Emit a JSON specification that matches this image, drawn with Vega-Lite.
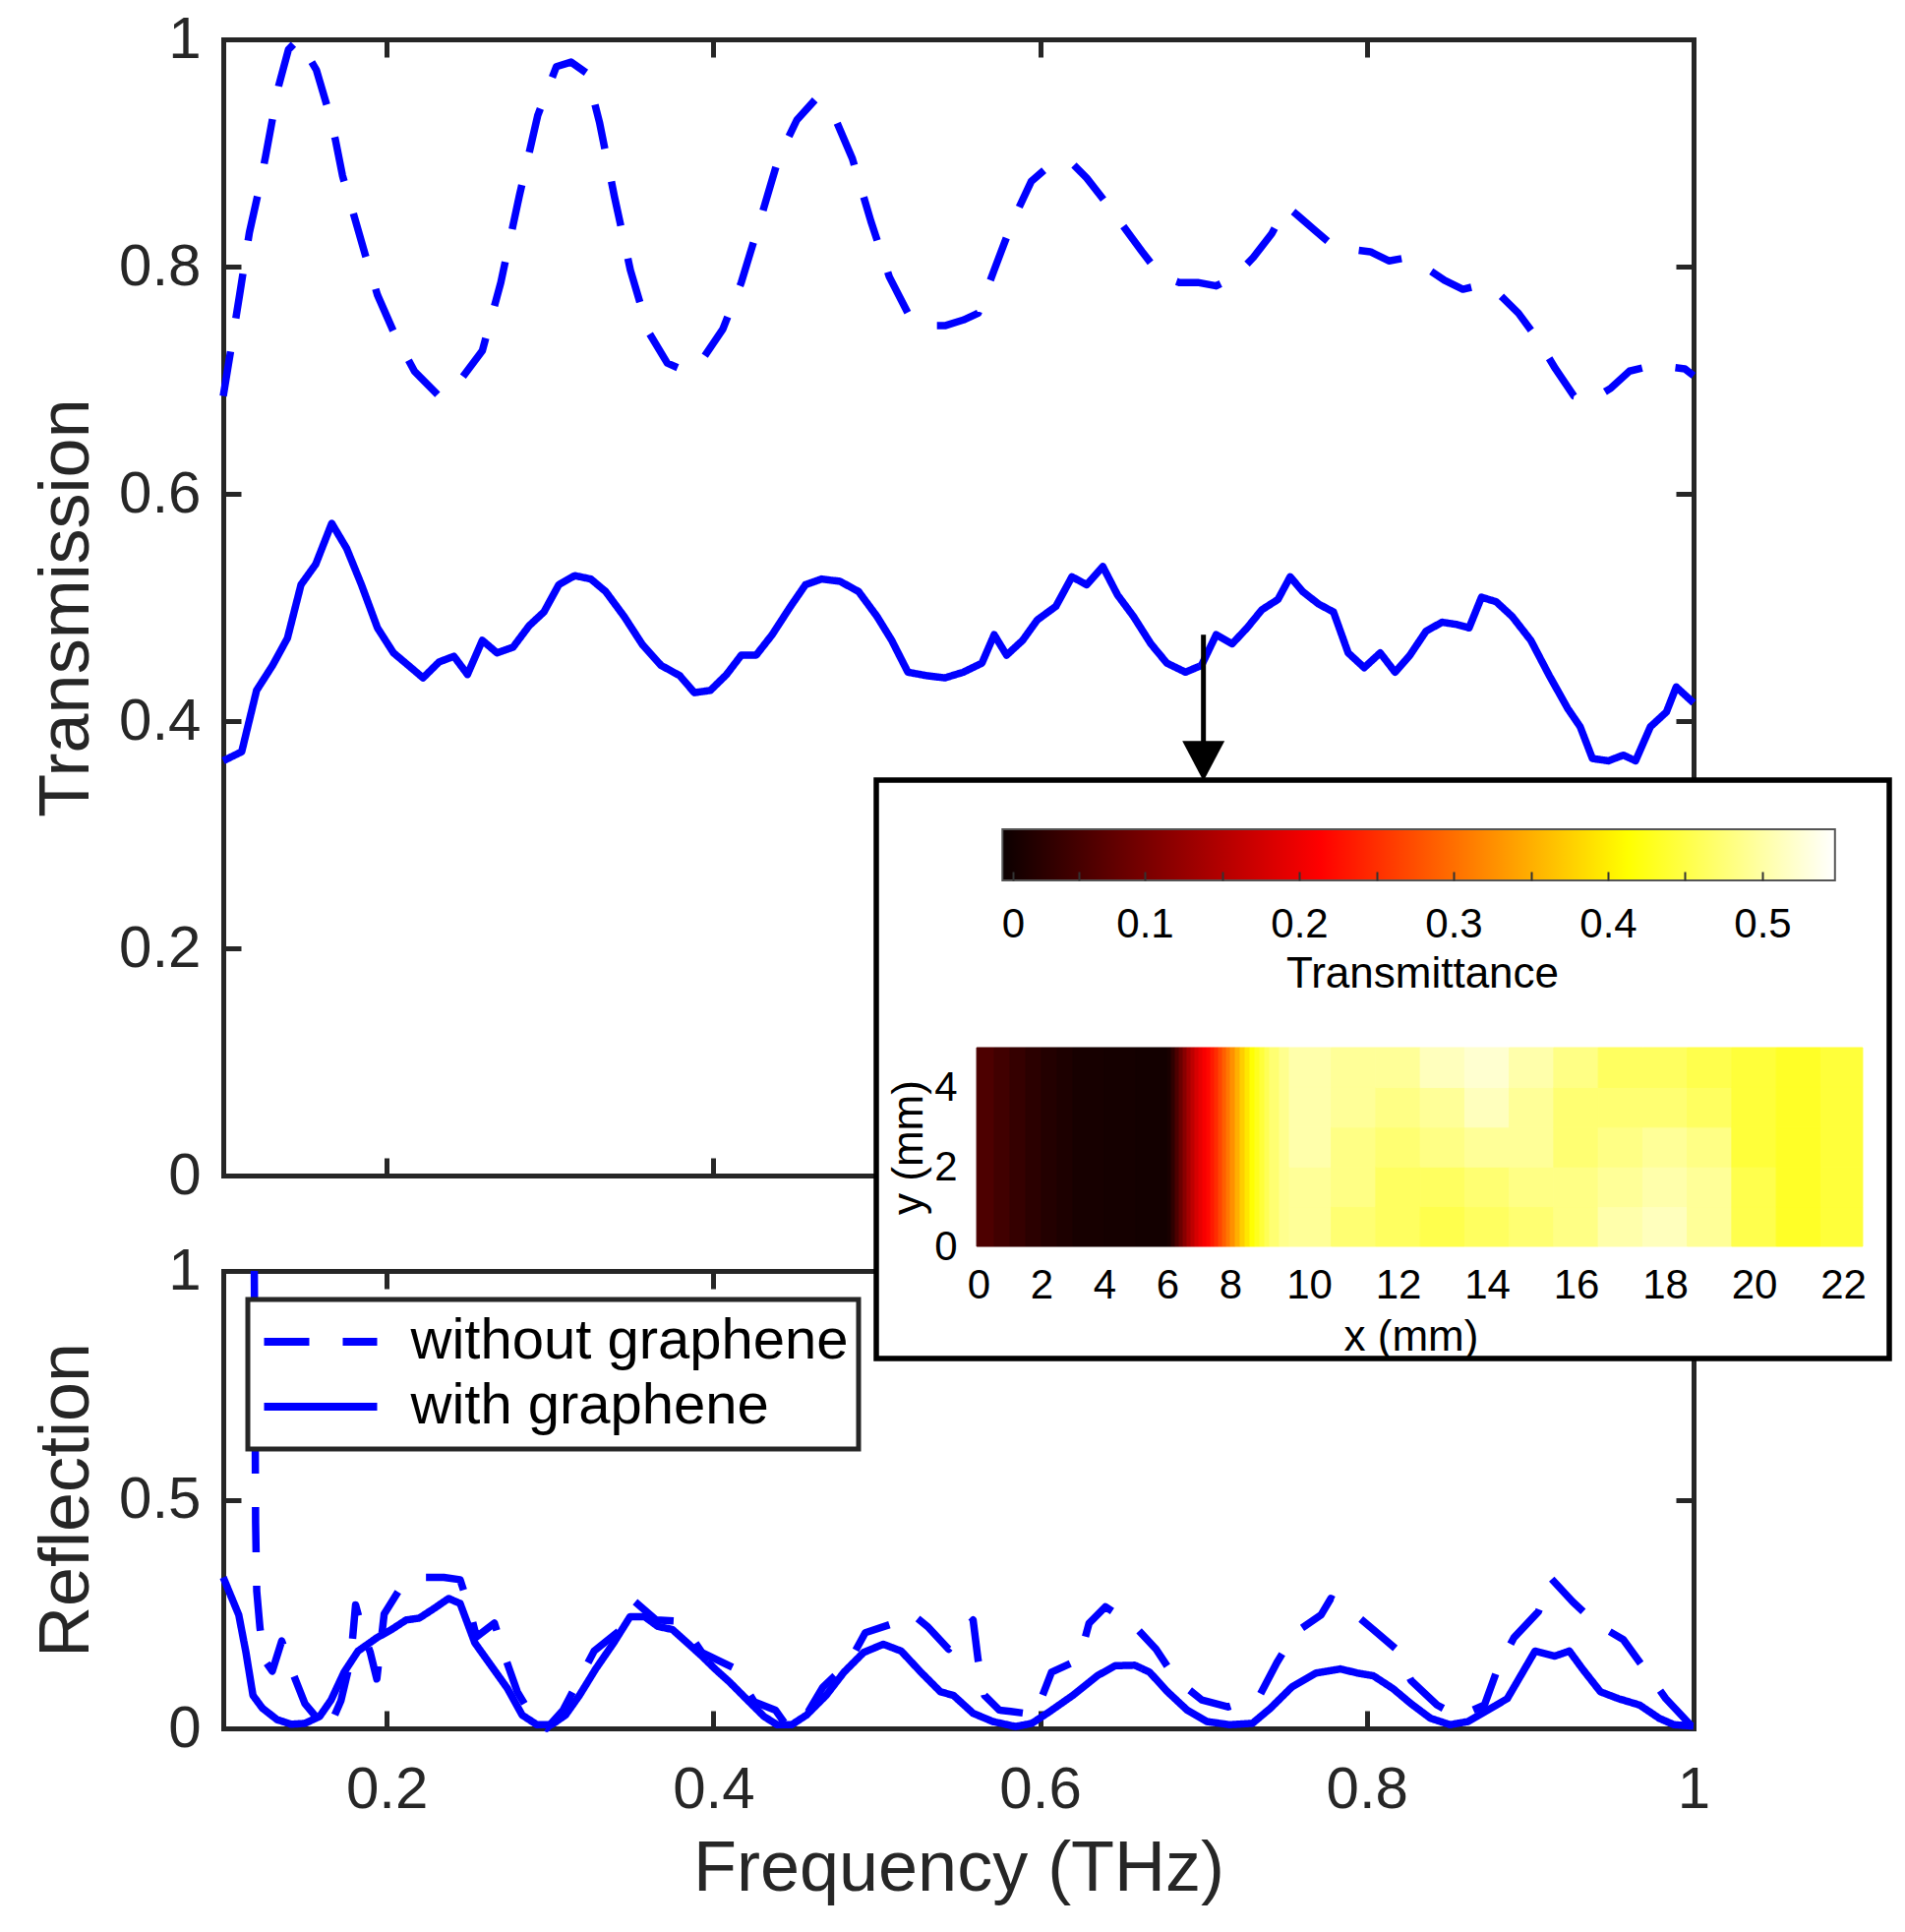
{
  "$schema": "https://vega.github.io/schema/vega-lite/v6.json",
  "width": 1495,
  "height": 1717,
  "autosize": "none",
  "padding": {"left": 227, "top": 40, "right": 215, "bottom": 207},
  "background": "white",
  "config": {
    "font": "Liberation Sans",
    "view": {"stroke": null},
    "axis": {
      "grid": false,
      "labelFlush": false,
      "labelOverlap": false,
      "domainColor": "#262626",
      "domainWidth": 5,
      "domainCap": "square",
      "tickColor": "#262626",
      "tickWidth": 5,
      "tickSize": -18,
      "labelColor": "#262626",
      "labelFontSize": 60,
      "titleColor": "#262626",
      "titleFontSize": 72,
      "titleFontWeight": "normal"
    }
  },
  "datasets": {
    "trans": [
      {"f": 0.1, "v": 0.686, "s": "without graphene"},
      {"f": 0.105, "v": 0.73, "s": "without graphene"},
      {"f": 0.11, "v": 0.775, "s": "without graphene"},
      {"f": 0.116, "v": 0.83, "s": "without graphene"},
      {"f": 0.1219, "v": 0.868, "s": "without graphene"},
      {"f": 0.1259, "v": 0.897, "s": "without graphene"},
      {"f": 0.1299, "v": 0.928, "s": "without graphene"},
      {"f": 0.1339, "v": 0.959, "s": "without graphene"},
      {"f": 0.1399, "v": 0.991, "s": "without graphene"},
      {"f": 0.1459, "v": 1.0, "s": "without graphene"},
      {"f": 0.157, "v": 0.973, "s": "without graphene"},
      {"f": 0.1636, "v": 0.941, "s": "without graphene"},
      {"f": 0.1686, "v": 0.912, "s": "without graphene"},
      {"f": 0.173, "v": 0.88, "s": "without graphene"},
      {"f": 0.18, "v": 0.845, "s": "without graphene"},
      {"f": 0.187, "v": 0.81, "s": "without graphene"},
      {"f": 0.1944, "v": 0.775, "s": "without graphene"},
      {"f": 0.2057, "v": 0.738, "s": "without graphene"},
      {"f": 0.217, "v": 0.708, "s": "without graphene"},
      {"f": 0.2321, "v": 0.686, "s": "without graphene"},
      {"f": 0.2435, "v": 0.697, "s": "without graphene"},
      {"f": 0.2586, "v": 0.726, "s": "without graphene"},
      {"f": 0.2699, "v": 0.786, "s": "without graphene"},
      {"f": 0.2812, "v": 0.862, "s": "without graphene"},
      {"f": 0.2925, "v": 0.933, "s": "without graphene"},
      {"f": 0.3039, "v": 0.976, "s": "without graphene"},
      {"f": 0.3129, "v": 0.98, "s": "without graphene"},
      {"f": 0.3227, "v": 0.97, "s": "without graphene"},
      {"f": 0.3303, "v": 0.927, "s": "without graphene"},
      {"f": 0.3394, "v": 0.862, "s": "without graphene"},
      {"f": 0.3492, "v": 0.797, "s": "without graphene"},
      {"f": 0.3605, "v": 0.742, "s": "without graphene"},
      {"f": 0.3718, "v": 0.715, "s": "without graphene"},
      {"f": 0.3831, "v": 0.708, "s": "without graphene"},
      {"f": 0.3945, "v": 0.721, "s": "without graphene"},
      {"f": 0.4058, "v": 0.745, "s": "without graphene"},
      {"f": 0.4171, "v": 0.786, "s": "without graphene"},
      {"f": 0.4285, "v": 0.84, "s": "without graphene"},
      {"f": 0.4398, "v": 0.895, "s": "without graphene"},
      {"f": 0.4511, "v": 0.929, "s": "without graphene"},
      {"f": 0.4624, "v": 0.947, "s": "without graphene"},
      {"f": 0.4738, "v": 0.933, "s": "without graphene"},
      {"f": 0.4851, "v": 0.895, "s": "without graphene"},
      {"f": 0.4964, "v": 0.84, "s": "without graphene"},
      {"f": 0.5077, "v": 0.791, "s": "without graphene"},
      {"f": 0.5191, "v": 0.759, "s": "without graphene"},
      {"f": 0.5304, "v": 0.748, "s": "without graphene"},
      {"f": 0.5417, "v": 0.748, "s": "without graphene"},
      {"f": 0.553, "v": 0.753, "s": "without graphene"},
      {"f": 0.5621, "v": 0.759, "s": "without graphene"},
      {"f": 0.5719, "v": 0.797, "s": "without graphene"},
      {"f": 0.5832, "v": 0.84, "s": "without graphene"},
      {"f": 0.5946, "v": 0.875, "s": "without graphene"},
      {"f": 0.6074, "v": 0.891, "s": "without graphene"},
      {"f": 0.6195, "v": 0.891, "s": "without graphene"},
      {"f": 0.6285, "v": 0.878, "s": "without graphene"},
      {"f": 0.6399, "v": 0.857, "s": "without graphene"},
      {"f": 0.6512, "v": 0.835, "s": "without graphene"},
      {"f": 0.6625, "v": 0.813, "s": "without graphene"},
      {"f": 0.6738, "v": 0.792, "s": "without graphene"},
      {"f": 0.6852, "v": 0.786, "s": "without graphene"},
      {"f": 0.6965, "v": 0.786, "s": "without graphene"},
      {"f": 0.7078, "v": 0.783, "s": "without graphene"},
      {"f": 0.7191, "v": 0.791, "s": "without graphene"},
      {"f": 0.7305, "v": 0.808, "s": "without graphene"},
      {"f": 0.7418, "v": 0.829, "s": "without graphene"},
      {"f": 0.7509, "v": 0.853, "s": "without graphene"},
      {"f": 0.7569, "v": 0.846, "s": "without graphene"},
      {"f": 0.7682, "v": 0.832, "s": "without graphene"},
      {"f": 0.7796, "v": 0.818, "s": "without graphene"},
      {"f": 0.7909, "v": 0.815, "s": "without graphene"},
      {"f": 0.8022, "v": 0.813, "s": "without graphene"},
      {"f": 0.8135, "v": 0.805, "s": "without graphene"},
      {"f": 0.8249, "v": 0.808, "s": "without graphene"},
      {"f": 0.8362, "v": 0.799, "s": "without graphene"},
      {"f": 0.8475, "v": 0.788, "s": "without graphene"},
      {"f": 0.8588, "v": 0.78, "s": "without graphene"},
      {"f": 0.8702, "v": 0.784, "s": "without graphene"},
      {"f": 0.8815, "v": 0.775, "s": "without graphene"},
      {"f": 0.8928, "v": 0.759, "s": "without graphene"},
      {"f": 0.9041, "v": 0.737, "s": "without graphene"},
      {"f": 0.9155, "v": 0.71, "s": "without graphene"},
      {"f": 0.9268, "v": 0.686, "s": "without graphene"},
      {"f": 0.9381, "v": 0.683, "s": "without graphene"},
      {"f": 0.9494, "v": 0.693, "s": "without graphene"},
      {"f": 0.9608, "v": 0.708, "s": "without graphene"},
      {"f": 0.9721, "v": 0.712, "s": "without graphene"},
      {"f": 0.9834, "v": 0.712, "s": "without graphene"},
      {"f": 0.9947, "v": 0.71, "s": "without graphene"},
      {"f": 1.0, "v": 0.704, "s": "without graphene"},
      {"f": 0.1, "v": 0.365, "s": "with graphene"},
      {"f": 0.1113, "v": 0.373, "s": "with graphene"},
      {"f": 0.1204, "v": 0.427, "s": "with graphene"},
      {"f": 0.1302, "v": 0.449, "s": "with graphene"},
      {"f": 0.1393, "v": 0.473, "s": "with graphene"},
      {"f": 0.1476, "v": 0.52, "s": "with graphene"},
      {"f": 0.1566, "v": 0.538, "s": "with graphene"},
      {"f": 0.1664, "v": 0.574, "s": "with graphene"},
      {"f": 0.1755, "v": 0.552, "s": "with graphene"},
      {"f": 0.1846, "v": 0.52, "s": "with graphene"},
      {"f": 0.1944, "v": 0.482, "s": "with graphene"},
      {"f": 0.2042, "v": 0.46, "s": "with graphene"},
      {"f": 0.2133, "v": 0.449, "s": "with graphene"},
      {"f": 0.2223, "v": 0.438, "s": "with graphene"},
      {"f": 0.2321, "v": 0.452, "s": "with graphene"},
      {"f": 0.2412, "v": 0.457, "s": "with graphene"},
      {"f": 0.2495, "v": 0.441, "s": "with graphene"},
      {"f": 0.2586, "v": 0.471, "s": "with graphene"},
      {"f": 0.2676, "v": 0.46, "s": "with graphene"},
      {"f": 0.2774, "v": 0.465, "s": "with graphene"},
      {"f": 0.2873, "v": 0.484, "s": "with graphene"},
      {"f": 0.2963, "v": 0.496, "s": "with graphene"},
      {"f": 0.3054, "v": 0.52, "s": "with graphene"},
      {"f": 0.3152, "v": 0.528, "s": "with graphene"},
      {"f": 0.325, "v": 0.525, "s": "with graphene"},
      {"f": 0.3341, "v": 0.514, "s": "with graphene"},
      {"f": 0.3454, "v": 0.492, "s": "with graphene"},
      {"f": 0.3567, "v": 0.467, "s": "with graphene"},
      {"f": 0.368, "v": 0.449, "s": "with graphene"},
      {"f": 0.3794, "v": 0.44, "s": "with graphene"},
      {"f": 0.3884, "v": 0.425, "s": "with graphene"},
      {"f": 0.3982, "v": 0.427, "s": "with graphene"},
      {"f": 0.4081, "v": 0.441, "s": "with graphene"},
      {"f": 0.4171, "v": 0.458, "s": "with graphene"},
      {"f": 0.4262, "v": 0.458, "s": "with graphene"},
      {"f": 0.436, "v": 0.476, "s": "with graphene"},
      {"f": 0.4473, "v": 0.501, "s": "with graphene"},
      {"f": 0.4564, "v": 0.52, "s": "with graphene"},
      {"f": 0.4662, "v": 0.525, "s": "with graphene"},
      {"f": 0.4775, "v": 0.523, "s": "with graphene"},
      {"f": 0.4889, "v": 0.514, "s": "with graphene"},
      {"f": 0.5002, "v": 0.492, "s": "with graphene"},
      {"f": 0.5092, "v": 0.471, "s": "with graphene"},
      {"f": 0.5191, "v": 0.443, "s": "with graphene"},
      {"f": 0.5304, "v": 0.44, "s": "with graphene"},
      {"f": 0.5417, "v": 0.438, "s": "with graphene"},
      {"f": 0.553, "v": 0.443, "s": "with graphene"},
      {"f": 0.5644, "v": 0.451, "s": "with graphene"},
      {"f": 0.5719, "v": 0.476, "s": "with graphene"},
      {"f": 0.5795, "v": 0.458, "s": "with graphene"},
      {"f": 0.5893, "v": 0.471, "s": "with graphene"},
      {"f": 0.5983, "v": 0.489, "s": "with graphene"},
      {"f": 0.6097, "v": 0.501, "s": "with graphene"},
      {"f": 0.6195, "v": 0.527, "s": "with graphene"},
      {"f": 0.6285, "v": 0.52, "s": "with graphene"},
      {"f": 0.6384, "v": 0.536, "s": "with graphene"},
      {"f": 0.6474, "v": 0.511, "s": "with graphene"},
      {"f": 0.6572, "v": 0.492, "s": "with graphene"},
      {"f": 0.6678, "v": 0.468, "s": "with graphene"},
      {"f": 0.6776, "v": 0.451, "s": "with graphene"},
      {"f": 0.689, "v": 0.443, "s": "with graphene"},
      {"f": 0.6988, "v": 0.449, "s": "with graphene"},
      {"f": 0.7078, "v": 0.476, "s": "with graphene"},
      {"f": 0.7176, "v": 0.468, "s": "with graphene"},
      {"f": 0.7267, "v": 0.482, "s": "with graphene"},
      {"f": 0.7358, "v": 0.498, "s": "with graphene"},
      {"f": 0.7456, "v": 0.507, "s": "with graphene"},
      {"f": 0.7531, "v": 0.527, "s": "with graphene"},
      {"f": 0.7607, "v": 0.514, "s": "with graphene"},
      {"f": 0.7705, "v": 0.503, "s": "with graphene"},
      {"f": 0.7796, "v": 0.496, "s": "with graphene"},
      {"f": 0.7886, "v": 0.46, "s": "with graphene"},
      {"f": 0.7984, "v": 0.447, "s": "with graphene"},
      {"f": 0.8082, "v": 0.46, "s": "with graphene"},
      {"f": 0.8173, "v": 0.443, "s": "with graphene"},
      {"f": 0.8264, "v": 0.458, "s": "with graphene"},
      {"f": 0.8362, "v": 0.479, "s": "with graphene"},
      {"f": 0.846, "v": 0.487, "s": "with graphene"},
      {"f": 0.8551, "v": 0.485, "s": "with graphene"},
      {"f": 0.8626, "v": 0.482, "s": "with graphene"},
      {"f": 0.8702, "v": 0.509, "s": "with graphene"},
      {"f": 0.8792, "v": 0.505, "s": "with graphene"},
      {"f": 0.889, "v": 0.492, "s": "with graphene"},
      {"f": 0.9004, "v": 0.471, "s": "with graphene"},
      {"f": 0.9117, "v": 0.44, "s": "with graphene"},
      {"f": 0.923, "v": 0.411, "s": "with graphene"},
      {"f": 0.9306, "v": 0.395, "s": "with graphene"},
      {"f": 0.9381, "v": 0.367, "s": "with graphene"},
      {"f": 0.9479, "v": 0.365, "s": "with graphene"},
      {"f": 0.957, "v": 0.37, "s": "with graphene"},
      {"f": 0.9645, "v": 0.365, "s": "with graphene"},
      {"f": 0.9736, "v": 0.395, "s": "with graphene"},
      {"f": 0.9834, "v": 0.408, "s": "with graphene"},
      {"f": 0.9894, "v": 0.43, "s": "with graphene"},
      {"f": 1.0, "v": 0.416, "s": "with graphene"}
    ],
    "refl": [
      {"f": 0.119, "v": 1.0, "s": "without graphene"},
      {"f": 0.1195, "v": 0.7, "s": "without graphene"},
      {"f": 0.1198, "v": 0.45, "s": "without graphene"},
      {"f": 0.1205, "v": 0.3, "s": "without graphene"},
      {"f": 0.1225, "v": 0.219, "s": "without graphene"},
      {"f": 0.1255, "v": 0.148, "s": "without graphene"},
      {"f": 0.13, "v": 0.125, "s": "without graphene"},
      {"f": 0.1358, "v": 0.191, "s": "without graphene"},
      {"f": 0.1416, "v": 0.13, "s": "without graphene"},
      {"f": 0.15, "v": 0.054, "s": "without graphene"},
      {"f": 0.158, "v": 0.02, "s": "without graphene"},
      {"f": 0.1647, "v": 0.0, "s": "without graphene"},
      {"f": 0.172, "v": 0.06, "s": "without graphene"},
      {"f": 0.178, "v": 0.15, "s": "without graphene"},
      {"f": 0.181, "v": 0.27, "s": "without graphene"},
      {"f": 0.185, "v": 0.216, "s": "without graphene"},
      {"f": 0.19, "v": 0.166, "s": "without graphene"},
      {"f": 0.194, "v": 0.108, "s": "without graphene"},
      {"f": 0.1985, "v": 0.25, "s": "without graphene"},
      {"f": 0.21, "v": 0.316, "s": "without graphene"},
      {"f": 0.222, "v": 0.33, "s": "without graphene"},
      {"f": 0.235, "v": 0.33, "s": "without graphene"},
      {"f": 0.245, "v": 0.325, "s": "without graphene"},
      {"f": 0.25, "v": 0.27, "s": "without graphene"},
      {"f": 0.255, "v": 0.2, "s": "without graphene"},
      {"f": 0.266, "v": 0.23, "s": "without graphene"},
      {"f": 0.273, "v": 0.151, "s": "without graphene"},
      {"f": 0.28, "v": 0.08, "s": "without graphene"},
      {"f": 0.29, "v": 0.02, "s": "without graphene"},
      {"f": 0.298, "v": 0.0, "s": "without graphene"},
      {"f": 0.308, "v": 0.04, "s": "without graphene"},
      {"f": 0.317, "v": 0.101, "s": "without graphene"},
      {"f": 0.327, "v": 0.169, "s": "without graphene"},
      {"f": 0.342, "v": 0.212, "s": "without graphene"},
      {"f": 0.352, "v": 0.277, "s": "without graphene"},
      {"f": 0.365, "v": 0.237, "s": "without graphene"},
      {"f": 0.38, "v": 0.234, "s": "without graphene"},
      {"f": 0.393, "v": 0.166, "s": "without graphene"},
      {"f": 0.412, "v": 0.133, "s": "without graphene"},
      {"f": 0.425, "v": 0.058, "s": "without graphene"},
      {"f": 0.438, "v": 0.04, "s": "without graphene"},
      {"f": 0.446, "v": 0.0, "s": "without graphene"},
      {"f": 0.457, "v": 0.03, "s": "without graphene"},
      {"f": 0.467, "v": 0.09, "s": "without graphene"},
      {"f": 0.483, "v": 0.144, "s": "without graphene"},
      {"f": 0.493, "v": 0.209, "s": "without graphene"},
      {"f": 0.514, "v": 0.234, "s": "without graphene"},
      {"f": 0.521, "v": 0.252, "s": "without graphene"},
      {"f": 0.531, "v": 0.223, "s": "without graphene"},
      {"f": 0.544, "v": 0.173, "s": "without graphene"},
      {"f": 0.559, "v": 0.237, "s": "without graphene"},
      {"f": 0.562, "v": 0.151, "s": "without graphene"},
      {"f": 0.566, "v": 0.072, "s": "without graphene"},
      {"f": 0.575, "v": 0.04, "s": "without graphene"},
      {"f": 0.582, "v": 0.037, "s": "without graphene"},
      {"f": 0.597, "v": 0.03, "s": "without graphene"},
      {"f": 0.607, "v": 0.123, "s": "without graphene"},
      {"f": 0.624, "v": 0.151, "s": "without graphene"},
      {"f": 0.63, "v": 0.23, "s": "without graphene"},
      {"f": 0.64, "v": 0.266, "s": "without graphene"},
      {"f": 0.658, "v": 0.223, "s": "without graphene"},
      {"f": 0.671, "v": 0.173, "s": "without graphene"},
      {"f": 0.683, "v": 0.108, "s": "without graphene"},
      {"f": 0.699, "v": 0.062, "s": "without graphene"},
      {"f": 0.715, "v": 0.047, "s": "without graphene"},
      {"f": 0.734, "v": 0.069, "s": "without graphene"},
      {"f": 0.745, "v": 0.144, "s": "without graphene"},
      {"f": 0.756, "v": 0.209, "s": "without graphene"},
      {"f": 0.772, "v": 0.248, "s": "without graphene"},
      {"f": 0.778, "v": 0.284, "s": "without graphene"},
      {"f": 0.786, "v": 0.27, "s": "without graphene"},
      {"f": 0.804, "v": 0.216, "s": "without graphene"},
      {"f": 0.818, "v": 0.173, "s": "without graphene"},
      {"f": 0.827, "v": 0.105, "s": "without graphene"},
      {"f": 0.843, "v": 0.051, "s": "without graphene"},
      {"f": 0.856, "v": 0.026, "s": "without graphene"},
      {"f": 0.872, "v": 0.051, "s": "without graphene"},
      {"f": 0.88, "v": 0.13, "s": "without graphene"},
      {"f": 0.89, "v": 0.198, "s": "without graphene"},
      {"f": 0.905, "v": 0.255, "s": "without graphene"},
      {"f": 0.913, "v": 0.327, "s": "without graphene"},
      {"f": 0.926, "v": 0.277, "s": "without graphene"},
      {"f": 0.94, "v": 0.23, "s": "without graphene"},
      {"f": 0.957, "v": 0.194, "s": "without graphene"},
      {"f": 0.97, "v": 0.13, "s": "without graphene"},
      {"f": 0.983, "v": 0.065, "s": "without graphene"},
      {"f": 0.998, "v": 0.008, "s": "without graphene"},
      {"f": 1.0, "v": 0.0, "s": "without graphene"},
      {"f": 0.1, "v": 0.33, "s": "with graphene"},
      {"f": 0.1095, "v": 0.248, "s": "with graphene"},
      {"f": 0.1139, "v": 0.166, "s": "with graphene"},
      {"f": 0.1182, "v": 0.072, "s": "with graphene"},
      {"f": 0.124, "v": 0.044, "s": "with graphene"},
      {"f": 0.133, "v": 0.019, "s": "with graphene"},
      {"f": 0.1416, "v": 0.009, "s": "with graphene"},
      {"f": 0.15, "v": 0.011, "s": "with graphene"},
      {"f": 0.159, "v": 0.026, "s": "with graphene"},
      {"f": 0.166, "v": 0.062, "s": "with graphene"},
      {"f": 0.174, "v": 0.123, "s": "with graphene"},
      {"f": 0.1825, "v": 0.169, "s": "with graphene"},
      {"f": 0.194, "v": 0.198, "s": "with graphene"},
      {"f": 0.203, "v": 0.216, "s": "with graphene"},
      {"f": 0.212, "v": 0.237, "s": "with graphene"},
      {"f": 0.22, "v": 0.241, "s": "with graphene"},
      {"f": 0.229, "v": 0.262, "s": "with graphene"},
      {"f": 0.238, "v": 0.284, "s": "with graphene"},
      {"f": 0.245, "v": 0.273, "s": "with graphene"},
      {"f": 0.254, "v": 0.187, "s": "with graphene"},
      {"f": 0.264, "v": 0.137, "s": "with graphene"},
      {"f": 0.274, "v": 0.087, "s": "with graphene"},
      {"f": 0.283, "v": 0.029, "s": "with graphene"},
      {"f": 0.292, "v": 0.008, "s": "with graphene"},
      {"f": 0.301, "v": 0.008, "s": "with graphene"},
      {"f": 0.3095, "v": 0.029, "s": "with graphene"},
      {"f": 0.318, "v": 0.072, "s": "with graphene"},
      {"f": 0.328, "v": 0.13, "s": "with graphene"},
      {"f": 0.339, "v": 0.187, "s": "with graphene"},
      {"f": 0.349, "v": 0.244, "s": "with graphene"},
      {"f": 0.358, "v": 0.244, "s": "with graphene"},
      {"f": 0.366, "v": 0.223, "s": "with graphene"},
      {"f": 0.375, "v": 0.216, "s": "with graphene"},
      {"f": 0.384, "v": 0.187, "s": "with graphene"},
      {"f": 0.393, "v": 0.158, "s": "with graphene"},
      {"f": 0.401, "v": 0.13, "s": "with graphene"},
      {"f": 0.41, "v": 0.101, "s": "with graphene"},
      {"f": 0.42, "v": 0.065, "s": "with graphene"},
      {"f": 0.431, "v": 0.026, "s": "with graphene"},
      {"f": 0.439, "v": 0.008, "s": "with graphene"},
      {"f": 0.448, "v": 0.008, "s": "with graphene"},
      {"f": 0.457, "v": 0.029, "s": "with graphene"},
      {"f": 0.469, "v": 0.072, "s": "with graphene"},
      {"f": 0.48, "v": 0.123, "s": "with graphene"},
      {"f": 0.492, "v": 0.166, "s": "with graphene"},
      {"f": 0.504, "v": 0.184, "s": "with graphene"},
      {"f": 0.515, "v": 0.169, "s": "with graphene"},
      {"f": 0.527, "v": 0.123, "s": "with graphene"},
      {"f": 0.539, "v": 0.08, "s": "with graphene"},
      {"f": 0.547, "v": 0.072, "s": "with graphene"},
      {"f": 0.559, "v": 0.033, "s": "with graphene"},
      {"f": 0.571, "v": 0.015, "s": "with graphene"},
      {"f": 0.585, "v": 0.004, "s": "with graphene"},
      {"f": 0.595, "v": 0.011, "s": "with graphene"},
      {"f": 0.606, "v": 0.037, "s": "with graphene"},
      {"f": 0.62, "v": 0.072, "s": "with graphene"},
      {"f": 0.635, "v": 0.115, "s": "with graphene"},
      {"f": 0.646, "v": 0.137, "s": "with graphene"},
      {"f": 0.658, "v": 0.138, "s": "with graphene"},
      {"f": 0.667, "v": 0.123, "s": "with graphene"},
      {"f": 0.678, "v": 0.08, "s": "with graphene"},
      {"f": 0.69, "v": 0.04, "s": "with graphene"},
      {"f": 0.702, "v": 0.015, "s": "with graphene"},
      {"f": 0.716, "v": 0.008, "s": "with graphene"},
      {"f": 0.73, "v": 0.011, "s": "with graphene"},
      {"f": 0.741, "v": 0.044, "s": "with graphene"},
      {"f": 0.754, "v": 0.09, "s": "with graphene"},
      {"f": 0.769, "v": 0.121, "s": "with graphene"},
      {"f": 0.784, "v": 0.13, "s": "with graphene"},
      {"f": 0.794, "v": 0.121, "s": "with graphene"},
      {"f": 0.804, "v": 0.115, "s": "with graphene"},
      {"f": 0.816, "v": 0.087, "s": "with graphene"},
      {"f": 0.827, "v": 0.054, "s": "with graphene"},
      {"f": 0.839, "v": 0.022, "s": "with graphene"},
      {"f": 0.851, "v": 0.008, "s": "with graphene"},
      {"f": 0.862, "v": 0.015, "s": "with graphene"},
      {"f": 0.874, "v": 0.04, "s": "with graphene"},
      {"f": 0.886, "v": 0.065, "s": "with graphene"},
      {"f": 0.903, "v": 0.169, "s": "with graphene"},
      {"f": 0.915, "v": 0.158, "s": "with graphene"},
      {"f": 0.924, "v": 0.169, "s": "with graphene"},
      {"f": 0.932, "v": 0.13, "s": "with graphene"},
      {"f": 0.943, "v": 0.08, "s": "with graphene"},
      {"f": 0.954, "v": 0.065, "s": "with graphene"},
      {"f": 0.967, "v": 0.051, "s": "with graphene"},
      {"f": 0.979, "v": 0.022, "s": "with graphene"},
      {"f": 0.988, "v": 0.008, "s": "with graphene"},
      {"f": 1.0, "v": 0.005, "s": "with graphene"}
    ],
    "heat": [
      {"x0": -0.06, "x1": 0.5, "y0": 0, "y1": 5, "v": 0.055},
      {"x0": 0.5, "x1": 1, "y0": 0, "y1": 5, "v": 0.045},
      {"x0": 1, "x1": 1.5, "y0": 0, "y1": 5, "v": 0.035},
      {"x0": 1.5, "x1": 2, "y0": 0, "y1": 5, "v": 0.027},
      {"x0": 2, "x1": 2.5, "y0": 0, "y1": 5, "v": 0.02},
      {"x0": 2.5, "x1": 3, "y0": 0, "y1": 5, "v": 0.015},
      {"x0": 3, "x1": 4, "y0": 0, "y1": 5, "v": 0.01},
      {"x0": 4, "x1": 5, "y0": 0, "y1": 5, "v": 0.008},
      {"x0": 5, "x1": 6, "y0": 0, "y1": 5, "v": 0.007},
      {"x0": 6, "x1": 6.125, "y0": 0, "y1": 5, "v": 0.012},
      {"x0": 6.125, "x1": 6.25, "y0": 0, "y1": 5, "v": 0.03},
      {"x0": 6.25, "x1": 6.375, "y0": 0, "y1": 5, "v": 0.055},
      {"x0": 6.375, "x1": 6.5, "y0": 0, "y1": 5, "v": 0.08},
      {"x0": 6.5, "x1": 6.625, "y0": 0, "y1": 5, "v": 0.105},
      {"x0": 6.625, "x1": 6.75, "y0": 0, "y1": 5, "v": 0.13},
      {"x0": 6.75, "x1": 6.875, "y0": 0, "y1": 5, "v": 0.15},
      {"x0": 6.875, "x1": 7, "y0": 0, "y1": 5, "v": 0.17},
      {"x0": 7, "x1": 7.125, "y0": 0, "y1": 5, "v": 0.185},
      {"x0": 7.125, "x1": 7.25, "y0": 0, "y1": 5, "v": 0.198},
      {"x0": 7.25, "x1": 7.375, "y0": 0, "y1": 5, "v": 0.21},
      {"x0": 7.375, "x1": 7.5, "y0": 0, "y1": 5, "v": 0.225},
      {"x0": 7.5, "x1": 7.625, "y0": 0, "y1": 5, "v": 0.24},
      {"x0": 7.625, "x1": 7.75, "y0": 0, "y1": 5, "v": 0.26},
      {"x0": 7.75, "x1": 7.875, "y0": 0, "y1": 5, "v": 0.28},
      {"x0": 7.875, "x1": 8, "y0": 0, "y1": 5, "v": 0.3},
      {"x0": 8, "x1": 8.125, "y0": 0, "y1": 5, "v": 0.32},
      {"x0": 8.125, "x1": 8.25, "y0": 0, "y1": 5, "v": 0.345},
      {"x0": 8.25, "x1": 8.375, "y0": 0, "y1": 5, "v": 0.37},
      {"x0": 8.375, "x1": 8.5, "y0": 0, "y1": 5, "v": 0.39},
      {"x0": 8.5, "x1": 8.625, "y0": 0, "y1": 5, "v": 0.41},
      {"x0": 8.625, "x1": 8.75, "y0": 0, "y1": 5, "v": 0.425},
      {"x0": 8.75, "x1": 8.875, "y0": 0, "y1": 5, "v": 0.44},
      {"x0": 8.875, "x1": 9, "y0": 0, "y1": 5, "v": 0.455},
      {"x0": 9, "x1": 9.25, "y0": 0, "y1": 5, "v": 0.47},
      {"x0": 9.25, "x1": 9.5, "y0": 0, "y1": 5, "v": 0.485},
      {"x0": 9.5, "x1": 10.5, "y0": 0, "y1": 1, "v": 0.49},
      {"x0": 9.5, "x1": 10.5, "y0": 1, "y1": 2, "v": 0.49},
      {"x0": 9.5, "x1": 10.5, "y0": 2, "y1": 3, "v": 0.5},
      {"x0": 9.5, "x1": 10.5, "y0": 3, "y1": 4, "v": 0.5},
      {"x0": 9.5, "x1": 10.5, "y0": 4, "y1": 5, "v": 0.5},
      {"x0": 10.5, "x1": 11.5, "y0": 0, "y1": 1, "v": 0.47},
      {"x0": 10.5, "x1": 11.5, "y0": 1, "y1": 2, "v": 0.48},
      {"x0": 10.5, "x1": 11.5, "y0": 2, "y1": 3, "v": 0.48},
      {"x0": 10.5, "x1": 11.5, "y0": 3, "y1": 4, "v": 0.49},
      {"x0": 10.5, "x1": 11.5, "y0": 4, "y1": 5, "v": 0.49},
      {"x0": 11.5, "x1": 12.5, "y0": 0, "y1": 1, "v": 0.46},
      {"x0": 11.5, "x1": 12.5, "y0": 1, "y1": 2, "v": 0.46},
      {"x0": 11.5, "x1": 12.5, "y0": 2, "y1": 3, "v": 0.47},
      {"x0": 11.5, "x1": 12.5, "y0": 3, "y1": 4, "v": 0.48},
      {"x0": 11.5, "x1": 12.5, "y0": 4, "y1": 5, "v": 0.49},
      {"x0": 12.5, "x1": 13.5, "y0": 0, "y1": 1, "v": 0.45},
      {"x0": 12.5, "x1": 13.5, "y0": 1, "y1": 2, "v": 0.46},
      {"x0": 12.5, "x1": 13.5, "y0": 2, "y1": 3, "v": 0.48},
      {"x0": 12.5, "x1": 13.5, "y0": 3, "y1": 4, "v": 0.49},
      {"x0": 12.5, "x1": 13.5, "y0": 4, "y1": 5, "v": 0.51},
      {"x0": 13.5, "x1": 14.5, "y0": 0, "y1": 1, "v": 0.46},
      {"x0": 13.5, "x1": 14.5, "y0": 1, "y1": 2, "v": 0.47},
      {"x0": 13.5, "x1": 14.5, "y0": 2, "y1": 3, "v": 0.49},
      {"x0": 13.5, "x1": 14.5, "y0": 3, "y1": 4, "v": 0.51},
      {"x0": 13.5, "x1": 14.5, "y0": 4, "y1": 5, "v": 0.52},
      {"x0": 14.5, "x1": 15.5, "y0": 0, "y1": 1, "v": 0.47},
      {"x0": 14.5, "x1": 15.5, "y0": 1, "y1": 2, "v": 0.48},
      {"x0": 14.5, "x1": 15.5, "y0": 2, "y1": 3, "v": 0.49},
      {"x0": 14.5, "x1": 15.5, "y0": 3, "y1": 4, "v": 0.49},
      {"x0": 14.5, "x1": 15.5, "y0": 4, "y1": 5, "v": 0.5},
      {"x0": 15.5, "x1": 16.5, "y0": 0, "y1": 1, "v": 0.48},
      {"x0": 15.5, "x1": 16.5, "y0": 1, "y1": 2, "v": 0.48},
      {"x0": 15.5, "x1": 16.5, "y0": 2, "y1": 3, "v": 0.47},
      {"x0": 15.5, "x1": 16.5, "y0": 3, "y1": 4, "v": 0.47},
      {"x0": 15.5, "x1": 16.5, "y0": 4, "y1": 5, "v": 0.48},
      {"x0": 16.5, "x1": 17.5, "y0": 0, "y1": 1, "v": 0.5},
      {"x0": 16.5, "x1": 17.5, "y0": 1, "y1": 2, "v": 0.49},
      {"x0": 16.5, "x1": 17.5, "y0": 2, "y1": 3, "v": 0.48},
      {"x0": 16.5, "x1": 17.5, "y0": 3, "y1": 4, "v": 0.47},
      {"x0": 16.5, "x1": 17.5, "y0": 4, "y1": 5, "v": 0.46},
      {"x0": 17.5, "x1": 18.5, "y0": 0, "y1": 1, "v": 0.51},
      {"x0": 17.5, "x1": 18.5, "y0": 1, "y1": 2, "v": 0.5},
      {"x0": 17.5, "x1": 18.5, "y0": 2, "y1": 3, "v": 0.49},
      {"x0": 17.5, "x1": 18.5, "y0": 3, "y1": 4, "v": 0.47},
      {"x0": 17.5, "x1": 18.5, "y0": 4, "y1": 5, "v": 0.46},
      {"x0": 18.5, "x1": 19.5, "y0": 0, "y1": 1, "v": 0.49},
      {"x0": 18.5, "x1": 19.5, "y0": 1, "y1": 2, "v": 0.49},
      {"x0": 18.5, "x1": 19.5, "y0": 2, "y1": 3, "v": 0.48},
      {"x0": 18.5, "x1": 19.5, "y0": 3, "y1": 4, "v": 0.46},
      {"x0": 18.5, "x1": 19.5, "y0": 4, "y1": 5, "v": 0.45},
      {"x0": 19.5, "x1": 20.5, "y0": 0, "y1": 1, "v": 0.45},
      {"x0": 19.5, "x1": 20.5, "y0": 1, "y1": 2, "v": 0.45},
      {"x0": 19.5, "x1": 20.5, "y0": 2, "y1": 3, "v": 0.44},
      {"x0": 19.5, "x1": 20.5, "y0": 3, "y1": 4, "v": 0.44},
      {"x0": 19.5, "x1": 20.5, "y0": 4, "y1": 5, "v": 0.44},
      {"x0": 20.5, "x1": 21.5, "y0": 0, "y1": 1, "v": 0.43},
      {"x0": 20.5, "x1": 21.5, "y0": 1, "y1": 2, "v": 0.43},
      {"x0": 20.5, "x1": 21.5, "y0": 2, "y1": 3, "v": 0.43},
      {"x0": 20.5, "x1": 21.5, "y0": 3, "y1": 4, "v": 0.43},
      {"x0": 20.5, "x1": 21.5, "y0": 4, "y1": 5, "v": 0.43},
      {"x0": 21.5, "x1": 22.44, "y0": 0, "y1": 1, "v": 0.44},
      {"x0": 21.5, "x1": 22.44, "y0": 1, "y1": 2, "v": 0.44},
      {"x0": 21.5, "x1": 22.44, "y0": 2, "y1": 3, "v": 0.44},
      {"x0": 21.5, "x1": 22.44, "y0": 3, "y1": 4, "v": 0.44},
      {"x0": 21.5, "x1": 22.44, "y0": 4, "y1": 5, "v": 0.44}
    ]
  },
  "layer": [
    {
      "data": {"name": "trans"},
      "mark": {"type": "line", "color": "#0000ff", "strokeWidth": 7.5, "strokeJoin": "round"},
      "encoding": {
        "x": {
          "field": "f", "type": "quantitative",
          "scale": {"domain": [0.1, 1], "nice": false, "zero": false},
          "axis": {"orient": "bottom", "offset": -562, "values": [0.2, 0.4, 0.6, 0.8, 1], "labels": false, "title": null}
        },
        "y": {
          "field": "v", "type": "quantitative",
          "scale": {"domain": [0, 1], "range": [1155, 0], "nice": false, "zero": false},
          "axis": {"orient": "left", "values": [0, 0.2, 0.4, 0.6, 0.8, 1], "format": "~g", "labelPadding": 41, "title": "Transmission", "titlePadding": 16}
        },
        "strokeDash": {
          "field": "s", "type": "nominal",
          "scale": {"domain": ["without graphene", "with graphene"], "range": [[46, 34], [1, 0]]},
          "legend": {
            "orient": "none", "legendX": 25, "legendY": 1281, "title": null,
            "strokeColor": "#262626", "fillColor": "white", "padding": 10, "zindex": 1,
            "symbolType": "stroke", "symbolSize": 13225, "symbolStrokeWidth": 8, "symbolStrokeColor": "#0000ff", "symbolOffset": 2.5,
            "labelFontSize": 58, "labelColor": "#000000", "labelOffset": 30, "labelLimit": 1000,
            "clipHeight": 66, "rowPadding": 0,
            "encode": {"legend": {"update": {"strokeWidth": {"value": 5}}}}
          }
        }
      }
    },
    {
      "data": {"values": [{"f": 0.7, "t0": 0.476, "t1": 0.378}]},
      "mark": {"type": "rule", "color": "#000000", "strokeWidth": 5},
      "encoding": {
        "x": {
          "field": "f", "type": "quantitative",
          "scale": {"domain": [0.1, 1], "nice": false, "zero": false},
          "axis": {"orient": "top", "values": [0.2, 0.4, 0.6, 0.8, 1], "labels": false, "title": null}
        },
        "y": {
          "field": "t0", "type": "quantitative",
          "scale": {"domain": [0, 1], "range": [1155, 0], "nice": false, "zero": false},
          "axis": {"orient": "right", "values": [0, 0.2, 0.4, 0.6, 0.8, 1], "labels": false, "title": null}
        },
        "y2": {"field": "t1"}
      }
    },
    {
      "data": {"values": [{"f": 0.7, "t": 0.3658}]},
      "mark": {"type": "point", "shape": "M-1,-0.9L1,-0.9L0,1Z", "filled": true, "color": "#000000", "size": 1849, "opacity": 1, "strokeWidth": 0},
      "encoding": {
        "x": {"field": "f", "type": "quantitative", "scale": {"domain": [0.1, 1], "nice": false, "zero": false}, "axis": null},
        "y": {"field": "t", "type": "quantitative", "scale": {"domain": [0, 1], "range": [1155, 0], "nice": false, "zero": false}, "axis": null}
      }
    },
    {
      "data": {"name": "refl"},
      "mark": {"type": "line", "color": "#0000ff", "strokeWidth": 7.5, "strokeJoin": "round"},
      "encoding": {
        "x": {
          "field": "f", "type": "quantitative",
          "scale": {"domain": [0.1, 1], "nice": false, "zero": false},
          "axis": {"orient": "bottom", "values": [0.2, 0.4, 0.6, 0.8, 1], "format": "~g", "labelPadding": 51, "title": "Frequency (THz)", "titlePadding": 15}
        },
        "y": {
          "field": "v", "type": "quantitative",
          "scale": {"domain": [0, 1], "range": [1717, 1252], "nice": false, "zero": false},
          "axis": {"orient": "left", "values": [0, 0.5, 1], "format": "~g", "labelPadding": 41, "title": "Reflection", "titlePadding": 16}
        },
        "strokeDash": {
          "field": "s", "type": "nominal",
          "scale": {"domain": ["without graphene", "with graphene"], "range": [[46, 34], [1, 0]]},
          "legend": {
            "orient": "none", "legendX": 25, "legendY": 1281, "title": null,
            "strokeColor": "#262626", "fillColor": "white", "padding": 10, "zindex": 1,
            "symbolType": "stroke", "symbolSize": 13225, "symbolStrokeWidth": 8, "symbolStrokeColor": "#0000ff", "symbolOffset": 2.5,
            "labelFontSize": 58, "labelColor": "#000000", "labelOffset": 30, "labelLimit": 1000,
            "clipHeight": 66, "rowPadding": 0,
            "encode": {"legend": {"update": {"strokeWidth": {"value": 5}}}}
          }
        }
      }
    },
    {
      "data": {"values": [{"f": 0.5, "v": 0.5}]},
      "mark": {"type": "point", "opacity": 0},
      "encoding": {
        "x": {
          "field": "f", "type": "quantitative",
          "scale": {"domain": [0.1, 1], "nice": false, "zero": false},
          "axis": {"orient": "top", "offset": -1252, "values": [0.2, 0.4, 0.6, 0.8, 1], "labels": false, "title": null}
        },
        "y": {
          "field": "v", "type": "quantitative",
          "scale": {"domain": [0, 1], "range": [1717, 1252], "nice": false, "zero": false},
          "axis": {"orient": "right", "values": [0, 0.5, 1], "labels": false, "title": null}
        }
      }
    },
    {
      "data": {"values": [{"a": 0, "b": 1}]},
      "mark": {"type": "rect", "fill": "white", "stroke": "#000000", "strokeWidth": 5.5},
      "encoding": {
        "x": {"field": "a", "type": "quantitative", "scale": {"domain": [0, 1], "range": [664, 1694], "nice": false, "zero": false}, "axis": null},
        "x2": {"field": "b"},
        "y": {"field": "a", "type": "quantitative", "scale": {"domain": [0, 1], "range": [1341, 753], "nice": false, "zero": false}, "axis": null},
        "y2": {"field": "b"}
      }
    },
    {
      "data": {"name": "heat"},
      "mark": {"type": "rect", "strokeWidth": 1},
      "encoding": {
        "x": {
          "field": "x0", "type": "quantitative",
          "scale": {"domain": [0, 8, 10, 22], "range": [768, 1024, 1104, 1647], "nice": false, "zero": false},
          "axis": {"orient": "bottom", "offset": -490, "values": [0, 2, 4, 6, 8, 10, 12, 14, 16, 18, 20, 22], "domain": false, "ticks": false, "labelPadding": 19, "labelFontSize": 42, "labelColor": "#000000", "title": "x (mm)", "titleFontSize": 44, "titleColor": "#000000", "titlePadding": 10, "zindex": 1}
        },
        "x2": {"field": "x1"},
        "y": {
          "field": "y0", "type": "quantitative",
          "scale": {"domain": [0, 5], "range": [1227, 1025], "nice": false, "zero": false},
          "axis": {"orient": "left", "offset": -766, "values": [0, 2, 4], "domain": false, "ticks": false, "labelPadding": 20, "labelFontSize": 42, "labelColor": "#000000", "title": "y (mm)", "titleFontSize": 44, "titleColor": "#000000", "titlePadding": 3, "zindex": 1}
        },
        "y2": {"field": "y1"},
        "color": {
          "field": "v", "type": "quantitative",
          "scale": {"domain": [0, 0.204, 0.409, 0.545], "range": ["#0b0000", "#ff0000", "#ffff00", "#ffffff"], "interpolate": "rgb"},
          "legend": null
        },
        "stroke": {
          "field": "v", "type": "quantitative",
          "scale": {"domain": [0, 0.204, 0.409, 0.545], "range": ["#0b0000", "#ff0000", "#ffff00", "#ffffff"], "interpolate": "rgb"},
          "legend": null
        }
      }
    },
    {
      "data": {"values": [{"c0": -0.008, "c1": 0.547, "r0": 0, "r1": 1}]},
      "mark": {
        "type": "rect", "stroke": "#555555", "strokeWidth": 2,
        "fill": {
          "gradient": "linear", "x1": 0, "y1": 0, "x2": 1, "y2": 0,
          "stops": [
            {"offset": 0, "color": "#0b0000"},
            {"offset": 0.382, "color": "#ff0000"},
            {"offset": 0.751, "color": "#ffff00"},
            {"offset": 1, "color": "#ffffff"}
          ]
        }
      },
      "encoding": {
        "x": {
          "field": "c0", "type": "quantitative",
          "scale": {"domain": [0, 0.1, 0.5], "range": [803, 937, 1565], "nice": false, "zero": false},
          "axis": {
            "orient": "bottom", "offset": -862,
            "values": [0, 0.05, 0.1, 0.15, 0.2, 0.25, 0.3, 0.35, 0.4, 0.45, 0.5],
            "format": "~g",
            "labelExpr": "round(datum.value * 100) % 10 == 0 ? datum.label : ''",
            "domain": false, "tickSize": -9, "tickWidth": 2, "tickColor": "#333333",
            "labelPadding": 33, "labelFontSize": 42, "labelColor": "#000000",
            "title": "Transmittance", "titleFontSize": 44, "titleColor": "#000000", "titlePadding": 8, "titleX": 1219,
            "zindex": 1
          }
        },
        "x2": {"field": "c1"},
        "y": {"field": "r0", "type": "quantitative", "scale": {"domain": [0, 1], "range": [855, 803], "nice": false, "zero": false}, "axis": null},
        "y2": {"field": "r1"}
      }
    }
  ],
  "resolve": {"scale": {"x": "independent", "y": "independent"}}
}
